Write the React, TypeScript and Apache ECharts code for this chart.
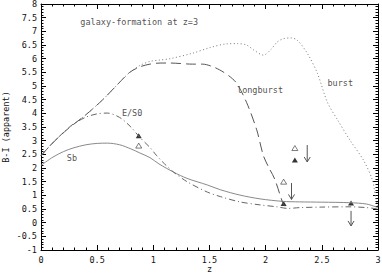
import React, { useEffect, useRef } from "react";
import * as echarts from "echarts";

const FONT = "DejaVu Sans Mono";

const sbCurve: [number, number][] = [
  [0, 2.1], [0.107, 2.4], [0.2, 2.6], [0.285, 2.73], [0.4, 2.85], [0.5, 2.9], [0.59, 2.91],
  [0.7, 2.85], [0.8, 2.7], [0.88, 2.55], [0.97, 2.38], [1.05, 2.15], [1.18, 1.85], [1.3, 1.62],
  [1.48, 1.38], [1.6, 1.2], [1.77, 1.01], [1.95, 0.87], [2.15, 0.78], [2.3, 0.76], [2.5, 0.75],
  [2.75, 0.73], [2.9, 0.68], [3.0, 0.55],
];

const es0Curve: [number, number][] = [
  [0, 2.45], [0.1, 2.9], [0.2, 3.3], [0.285, 3.6], [0.4, 3.86], [0.5, 3.98], [0.59, 4.01],
  [0.7, 3.85], [0.8, 3.5], [0.88, 3.12], [0.97, 2.75], [1.03, 2.45], [1.1, 2.15], [1.18, 1.85],
  [1.3, 1.5], [1.48, 1.12], [1.6, 0.95], [1.77, 0.76], [1.95, 0.65], [2.1, 0.58], [2.2, 0.52],
  [2.3, 0.55], [2.5, 0.57], [2.75, 0.58], [2.9, 0.55], [3.0, 0.5],
];

const longburstCurve: [number, number][] = [
  [0, 2.45], [0.1, 2.9], [0.23, 3.4], [0.4, 3.95], [0.55, 4.5], [0.68, 5.05], [0.79, 5.5],
  [0.88, 5.7], [0.97, 5.8], [1.06, 5.84], [1.15, 5.84], [1.35, 5.8], [1.44, 5.8], [1.52, 5.72],
  [1.59, 5.59], [1.67, 5.38], [1.74, 5.11], [1.83, 4.4], [1.92, 3.4], [1.98, 2.45], [2.03, 2.0],
  [2.08, 1.6], [2.15, 0.75], [2.17, 0.6],
];

const burstCurve: [number, number][] = [
  [0, 2.45], [0.1, 2.9], [0.23, 3.4], [0.4, 3.95], [0.55, 4.5], [0.68, 5.05], [0.79, 5.5],
  [0.88, 5.75], [0.97, 5.9], [1.06, 5.95], [1.15, 6.0], [1.35, 6.2], [1.5, 6.4], [1.65, 6.54],
  [1.75, 6.55], [1.83, 6.5], [1.9, 6.3], [1.98, 6.13], [2.05, 6.35], [2.1, 6.6], [2.15, 6.72],
  [2.22, 6.76], [2.28, 6.68], [2.37, 6.2], [2.46, 5.47], [2.55, 4.4], [2.64, 3.76], [2.75, 3.02],
  [2.87, 2.29], [2.95, 1.56], [2.98, 0.9], [3.0, 0.6],
];

const filledTriangles: [number, number][] = [[0.87, 3.18], [2.16, 0.7], [2.26, 2.29], [2.76, 0.72]];
const openTriangles: [number, number][] = [[0.87, 2.82], [2.16, 1.5], [2.26, 2.73]];
// [z, from, to]
const arrows: [number, number, number][] = [[2.37, 2.84, 2.22], [2.23, 1.45, 0.85], [2.76, 0.43, -0.12]];

const annotations = [
  { value: [0.35, 7.34], name: "galaxy-formation at z=3" },
  { value: [0.72, 4.01], name: "E/S0" },
  { value: [0.23, 2.37], name: "Sb" },
  { value: [1.745, 4.85], name: "longburst" },
  { value: [2.55, 5.11], name: "burst" },
];

const xTicks = { min: 0, max: 3, interval: 0.5 };
const yTicks = { min: -1, max: 8, interval: 0.5 };

export default function App() {
  const ref = useRef<HTMLDivElement>(null);
  useEffect(() => {
    if (!ref.current) return;
    const chart = echarts.init(ref.current, undefined, { renderer: "svg" });
    const axisCommon = {
      type: "value" as const,
      axisLine: { show: true, onZero: false, lineStyle: { color: "#000", width: 1 } },
      axisTick: { show: true, inside: true, length: 5, lineStyle: { color: "#000", width: 1 } },
      minorTick: { show: true, splitNumber: 5, length: 2.5, lineStyle: { color: "#000", width: 1 } },
      splitLine: { show: false },
    };
    const labelStyle = { fontFamily: FONT, fontSize: 8.5, color: "#111" };
    const lineSeries = (name: string, data: [number, number][], color: string, type: any) => ({
      name,
      type: "line",
      data,
      showSymbol: false,
      smooth: 0.3,
      lineStyle: { color, width: 1, type },
      silent: true,
    });
    chart.setOption({
      animation: false,
      grid: { left: 41, right: 4, top: 4, bottom: 23, containLabel: false, outerBoundsMode: "none" },
      xAxis: [
        {
          ...axisCommon,
          ...xTicks,
          position: "bottom",
          axisLabel: { ...labelStyle, margin: 5, formatter: (v: number) => String(v) },
          name: "z",
          nameLocation: "middle",
          nameGap: 14,
          nameMoveOverlap: false,
          nameTextStyle: { ...labelStyle, lineHeight: 9 },
        },
        { ...axisCommon, ...xTicks, position: "top", axisLabel: { show: false } },
      ],
      yAxis: [
        {
          ...axisCommon,
          ...yTicks,
          position: "left",
          axisLabel: { ...labelStyle, margin: 4, formatter: (v: number) => String(v) },
          name: "B-I (apparent)",
          nameLocation: "middle",
          nameGap: 31,
          nameMoveOverlap: false,
          nameTextStyle: { ...labelStyle, lineHeight: 9 },
        },
        { ...axisCommon, ...yTicks, position: "right", axisLabel: { show: false } },
      ],
      series: [
        lineSeries("Sb", sbCurve, "#8a8a8a", "solid"),
        lineSeries("E/S0", es0Curve, "#666", [6, 3, 1, 3]),
        lineSeries("longburst", longburstCurve, "#555", [10, 5]),
        lineSeries("burst", burstCurve, "#777", [1, 2.5]),
        {
          type: "scatter",
          data: filledTriangles,
          symbol: "triangle",
          symbolSize: [6, 5],
          itemStyle: { color: "#000" },
          silent: true,
        },
        {
          type: "scatter",
          data: openTriangles,
          symbol: "triangle",
          symbolSize: [6, 5],
          itemStyle: { color: "#fff", borderColor: "#333", borderWidth: 0.8 },
          silent: true,
        },
        {
          type: "custom",
          data: arrows,
          silent: true,
          renderItem: (params: any, api: any) => {
            const x = api.value(0);
            const p1 = api.coord([x, api.value(1)]);
            const p2 = api.coord([x, api.value(2)]);
            return {
              type: "group",
              children: [
                {
                  type: "line",
                  shape: { x1: p1[0], y1: p1[1], x2: p2[0], y2: p2[1] },
                  style: { stroke: "#555", lineWidth: 1 },
                },
                {
                  type: "polyline",
                  shape: { points: [[p2[0] - 3, p2[1] - 5], [p2[0], p2[1]], [p2[0] + 3, p2[1] - 5]] },
                  style: { stroke: "#555", fill: "none", lineWidth: 1 },
                },
              ],
            };
          },
        },
        {
          type: "scatter",
          data: annotations,
          symbolSize: 0,
          silent: true,
          label: {
            show: true,
            position: "right",
            distance: 0,
            formatter: (p: any) => p.name,
            ...labelStyle,
            color: "#222",
          },
        },
      ],
    });
    return () => chart.dispose();
  }, []);
  return (
    <div
      ref={ref}
      style={{ position: "fixed", left: 0, top: 0, width: 382, height: 273, background: "#fff" }}
    />
  );
}
